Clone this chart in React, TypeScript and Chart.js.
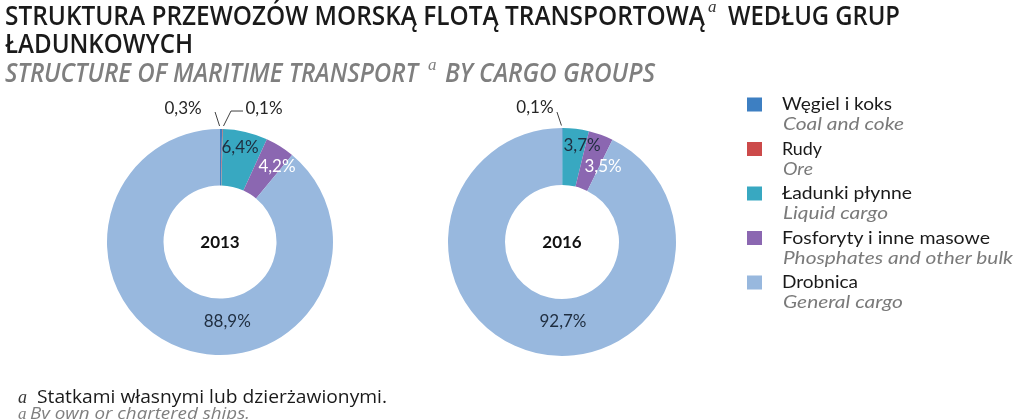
import React, { useEffect, useRef } from "react";
import { Chart, registerables } from "chart.js";

Chart.register(...registerables);

// ---------- data ----------
const categoriesPl = ["Węgiel i koks", "Rudy", "Ładunki płynne", "Fosforyty i inne masowe", "Drobnica"];
const categoriesEn = ["Coal and coke", "Ore", "Liquid cargo", "Phosphates and other bulk", "General cargo"];
const years = ["2013", "2016"];
const values2013 = [0.3, 0.1, 6.4, 4.2, 88.9];
const values2016 = [0.1, 0, 3.7, 3.5, 92.7];
const sliceColors = ["#3d7fc2", "#cc4a4a", "#38a8c1", "#8b67b1", "#98b8de"];

const titlePl1 = "STRUKTURA PRZEWOZÓW MORSKĄ FLOTĄ TRANSPORTOWĄ";
const titlePl1b = "WEDŁUG GRUP";
const titlePl2 = "ŁADUNKOWYCH";
const titleEn1 = "STRUCTURE OF MARITIME TRANSPORT";
const titleEn2 = "BY CARGO GROUPS";
const notePl = "Statkami własnymi lub dzierżawionymi.";
const noteEn = "By own or chartered ships.";

// ---------- label styling (offsets relative to library geometry) ----------
type LabelStyle = {
  kind: "in" | "out";
  dx: number;
  dy: number;
  color: string;
  lead?: number[][];
};
const DARK = "#1f2d3f";
const styles2013: LabelStyle[] = [
  { kind: "out", dx: -38, dy: -20.5, color: "#262626", lead: [[-6, -17], [-1.5, -3]] },
  { kind: "out", dx: 41.5, dy: -20.5, color: "#262626", lead: [[20.5, -18], [8.5, -18], [1, -3]] },
  { kind: "in", dx: 1, dy: -11.4, color: DARK },
  { kind: "in", dx: 12, dy: -4, color: "#ffffff" },
  { kind: "in", dx: 36, dy: 0, color: DARK },
];
const styles2016: LabelStyle[] = [
  { kind: "out", dx: -27.4, dy: -20, color: "#262626", lead: [[-5.4, -16], [-0.9, -2.5]] },
  { kind: "out", dx: 0, dy: 0, color: "#262626" },
  { kind: "in", dx: 9.6, dy: -12.1, color: DARK },
  { kind: "in", dx: 11.8, dy: 4.4, color: "#ffffff" },
  { kind: "in", dx: 20.4, dy: -3.3, color: DARK },
];

const fmt = (v: number) => v.toFixed(1).replace(".", ",") + "%";

function makeLabelPlugin(year: string, styles: LabelStyle[]) {
  return {
    id: "donutLabels",
    afterDatasetsDraw(chart: any) {
      const ctx = chart.ctx as CanvasRenderingContext2D;
      const meta = chart.getDatasetMeta(0);
      const data = chart.data.datasets[0].data as number[];
      ctx.save();
      ctx.textAlign = "center";
      ctx.textBaseline = "middle";
      let cx = 0, cy = 0;
      meta.data.forEach((arc: any, i: number) => {
        const p = arc.getProps(["x", "y", "startAngle", "endAngle", "outerRadius"], true);
        cx = p.x; cy = p.y;
        const v = data[i];
        const st = styles[i];
        if (!v || !st) return;
        ctx.font = '17px Lato';
        ctx.fillStyle = st.color;
        if (st.kind === "in") {
          const tp = arc.tooltipPosition(true);
          ctx.fillText(fmt(v), tp.x + st.dx, tp.y + st.dy);
        } else {
          const mid = (p.startAngle + p.endAngle) / 2;
          const ax = p.x + Math.cos(mid) * p.outerRadius;
          const ay = p.y + Math.sin(mid) * p.outerRadius;
          ctx.fillText(fmt(v), ax + st.dx, ay + st.dy);
          if (st.lead) {
            ctx.beginPath();
            ctx.strokeStyle = "#404040";
            ctx.lineWidth = 1;
            st.lead.forEach((pt, k) => {
              if (k === 0) ctx.moveTo(ax + pt[0], ay + pt[1]);
              else ctx.lineTo(ax + pt[0], ay + pt[1]);
            });
            ctx.stroke();
          }
        }
      });
      ctx.font = "bold 17px Lato";
      ctx.fillStyle = "#111111";
      ctx.fillText(year, cx, cy + 1);
      ctx.restore();
    },
  };
}

function Donut(props: {
  values: number[];
  year: string;
  styles: LabelStyle[];
  left: number;
  top: number;
  pad: { left: number; right: number; top: number; bottom: number };
}) {
  const ref = useRef<HTMLCanvasElement>(null);
  useEffect(() => {
    const chart = new Chart(ref.current as HTMLCanvasElement, {
      type: "doughnut",
      data: {
        labels: categoriesPl,
        datasets: [{ data: props.values, backgroundColor: sliceColors, borderWidth: 0 }],
      },
      options: {
        responsive: false,
        animation: false,
        cutout: "50%",
        events: [],
        layout: { padding: props.pad },
        plugins: { legend: { display: false }, tooltip: { enabled: false } },
      },
      plugins: [makeLabelPlugin(props.year, props.styles)],
    } as any);
    return () => chart.destroy();
  }, []);
  return (
    <canvas
      ref={ref}
      width={300}
      height={300}
      style={{ position: "absolute", left: props.left, top: props.top, width: 300, height: 300 }}
    />
  );
}

const legendX = 747;
const legendTextX = 782;
const legendBase = 110;
const legendStep = 44.5;
const legendEnWidths = [121, 30, 105, 230, 120];
const legendPlWidths = [110, 40, 130, 208, 76];

export default function App() {
  return (
    <div
      style={{
        position: "absolute",
        left: 0,
        top: 0,
        width: 1024,
        height: 419,
        overflow: "hidden",
        background: "#ffffff",
      }}
    >
      <Donut values={values2013} year={years[0]} styles={styles2013} left={70} top={90}
        pad={{ left: 37, right: 37, top: 39, bottom: 35 }} />
      <Donut values={values2016} year={years[1]} styles={styles2016} left={412} top={90}
        pad={{ left: 36, right: 36, top: 38, bottom: 34 }} />
      <svg width={1024} height={419} style={{ position: "absolute", left: 0, top: 0 }}>
        {/* title */}
        <text x={5} y={25} textLength={700} lengthAdjust="spacingAndGlyphs"
          fontFamily="Open Sans" fontWeight={600} fontSize={27} fill="#1a1a1a">{titlePl1}</text>
        <text x={708} y={12} fontFamily="Liberation Serif" fontStyle="italic" fontSize={17} fill="#333333">a</text>
        <text x={728} y={25} textLength={172} lengthAdjust="spacingAndGlyphs"
          fontFamily="Open Sans" fontWeight={600} fontSize={27} fill="#1a1a1a">{titlePl1b}</text>
        <text x={5} y={53} textLength={188} lengthAdjust="spacingAndGlyphs"
          fontFamily="Open Sans" fontWeight={600} fontSize={27} fill="#1a1a1a">{titlePl2}</text>
        <text x={5} y={82} textLength={413} lengthAdjust="spacingAndGlyphs"
          fontFamily="Open Sans" fontWeight={600} fontStyle="italic" fontSize={27} fill="#7f7f7f">{titleEn1}</text>
        <text x={428} y={70} fontFamily="Liberation Serif" fontStyle="italic" fontSize={17} fill="#7f7f7f">a</text>
        <text x={445} y={82} textLength={210} lengthAdjust="spacingAndGlyphs"
          fontFamily="Open Sans" fontWeight={600} fontStyle="italic" fontSize={27} fill="#7f7f7f">{titleEn2}</text>

        {/* legend */}
        {categoriesPl.map((c, i) => {
          const b = legendBase + legendStep * i;
          return (
            <g key={c}>
              <rect x={legendX} y={b - 12.5} width={15} height={14} fill={sliceColors[i]} />
              <text x={legendTextX} y={b} textLength={legendPlWidths[i]} lengthAdjust="spacingAndGlyphs"
                fontFamily="Lato" fontSize={17} fill="#1a1a1a">{c}</text>
              <text x={legendTextX + 1} y={b + 20} textLength={legendEnWidths[i]} lengthAdjust="spacingAndGlyphs"
                fontFamily="Lato" fontStyle="italic" fontSize={17} fill="#7a7a7a">{categoriesEn[i]}</text>
            </g>
          );
        })}

        {/* footnote */}
        <text x={18} y={403} fontFamily="Liberation Serif" fontStyle="italic" fontSize={18} fill="#333333">a</text>
        <text x={37} y={403} textLength={350} lengthAdjust="spacingAndGlyphs"
          fontFamily="Open Sans" fontSize={18} fill="#1a1a1a">{notePl}</text>
        <text x={18} y={419} fontFamily="Liberation Serif" fontStyle="italic" fontSize={17} fill="#7f7f7f">a</text>
        <text x={30} y={419} textLength={220} lengthAdjust="spacingAndGlyphs"
          fontFamily="Open Sans" fontStyle="italic" fontSize={17} fill="#7f7f7f">{noteEn}</text>
      </svg>
    </div>
  );
}
